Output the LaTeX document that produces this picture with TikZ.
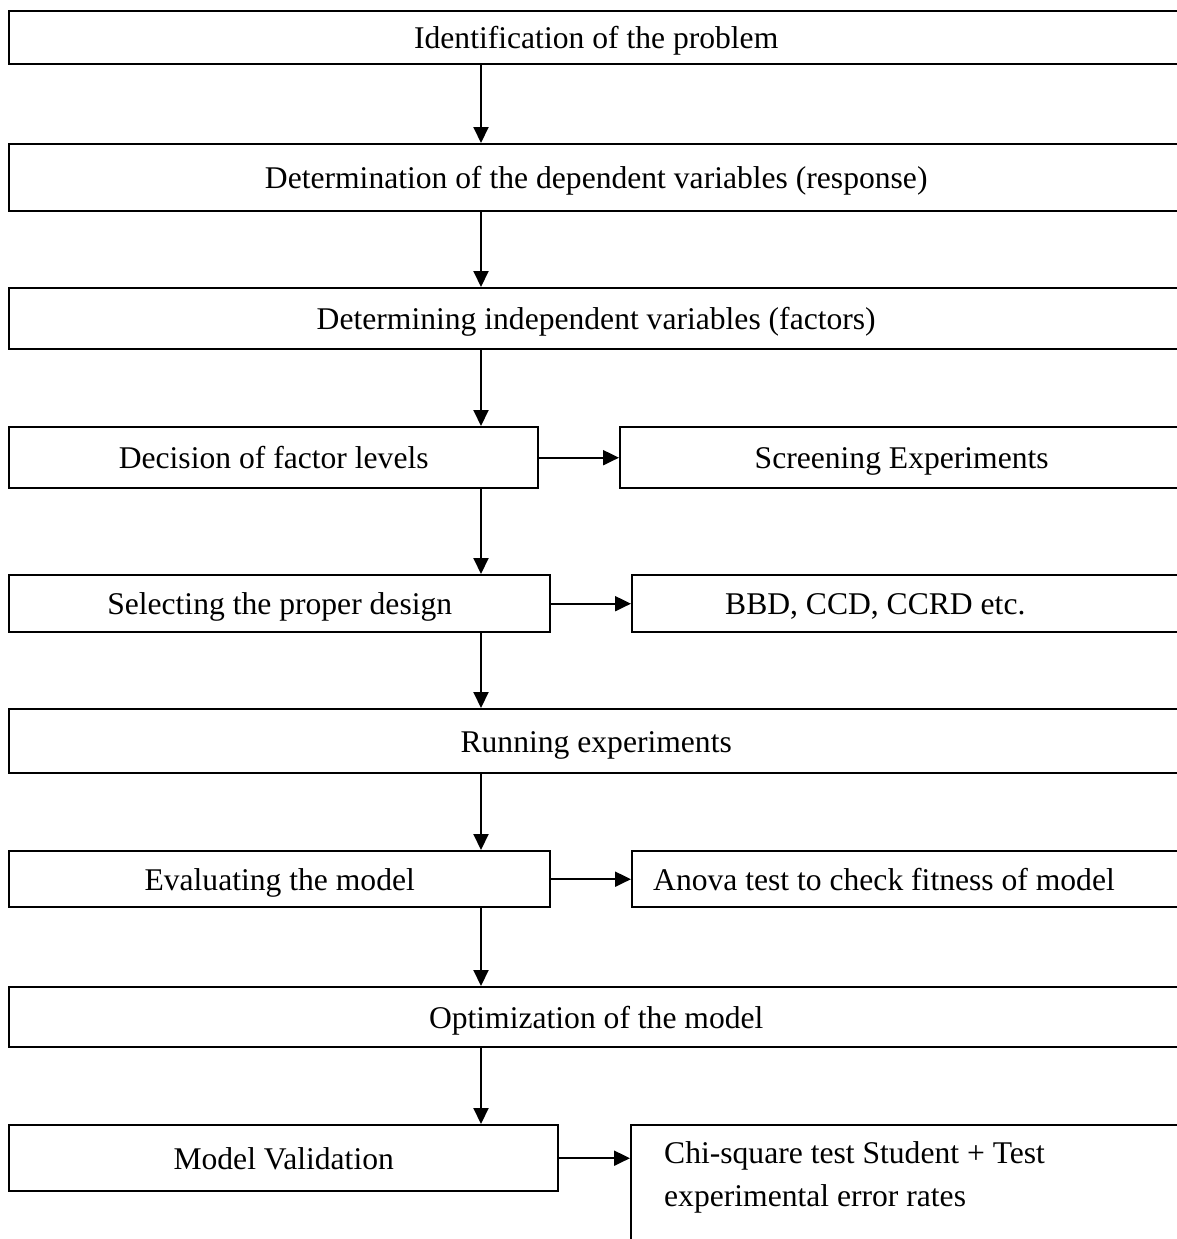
\documentclass[tikz,border=0pt]{standalone}
\usepackage{fontspec}
\setmainfont{Liberation Serif}
\usepackage{tikz}
\usetikzlibrary{positioning, arrows.meta}

\begin{document}
\begin{tikzpicture}[x=1pt, y=-1pt,
    box/.style={draw=black, line width=2.4pt, inner sep=0pt, anchor=north west,
        text height=29pt, text depth=7pt, font=\fontsize{31.6}{43}\selectfont},
    sidebox/.style={box, align=flush left},
    arr/.style={line width=2pt, -{Triangle[length=16pt, width=15pt]}}]
            \useasboundingbox (0,0) rectangle (1177,1239);
            \clip (0,0) rectangle (1177,1239);

            \node[box, minimum width=1174pt, minimum height=53pt] (1) at (8, 10) {Identification of the problem};
            \node[box, minimum width=1174pt, minimum height=67pt] (2) at (8, 143) {Determination of the dependent variables (response)};
            \node[box, minimum width=1174pt, minimum height=61pt] (3) at (8, 287) {Determining independent variables (factors)};
            \node[box, minimum width=529pt, minimum height=61pt] (4) at (8, 426) {Decision of factor levels};
            \node[box, minimum width=563pt, minimum height=61pt] (s4) at (619, 426) {Screening Experiments};
            \node[box, minimum width=541pt, minimum height=57pt] (5) at (8, 574) {Selecting the proper design};
            \node[sidebox, minimum width=551pt, minimum height=57pt, inner xsep=93pt, text width=365pt] (s5) at (631, 574) {BBD, CCD, CCRD etc.};
            \node[box, minimum width=1174pt, minimum height=64pt] (6) at (8, 708) {Running experiments};
            \node[box, minimum width=541pt, minimum height=56pt] (7) at (8, 850) {Evaluating the model};
            \node[sidebox, minimum width=551pt, minimum height=56pt, inner xsep=21pt, text width=509pt] (s7) at (631, 850) {Anova test to check fitness of model};
            \node[box, minimum width=1174pt, minimum height=60pt] (8) at (8, 986) {Optimization of the model};
            \node[box, minimum width=549pt, minimum height=66pt] (9) at (8, 1124) {Model Validation};
            \node[sidebox, minimum width=552pt, inner xsep=33pt, text width=486pt, text height=38pt, text depth=200pt] (s9) at (630, 1124) {Chi-square test Student + Test\\experimental error rates};

            \coordinate (ax) at (481, 0);
            \draw[arr] (1.south -| ax) -- (2.north -| ax);
            \draw[arr] (2.south -| ax) -- (3.north -| ax);
            \draw[arr] (3.south -| ax) -- (4.north -| ax);
            \draw[arr] (4.south -| ax) -- (5.north -| ax);
            \draw[arr] (5.south -| ax) -- (6.north -| ax);
            \draw[arr] (6.south -| ax) -- (7.north -| ax);
            \draw[arr] (7.south -| ax) -- (8.north -| ax);
            \draw[arr] (8.south -| ax) -- (9.north -| ax);

            \draw[arr] (4.east) -- (s4.west |- 4.east);
            \draw[arr] (5.east) -- (s5.west |- 5.east);
            \draw[arr] (7.east) -- (s7.west |- 7.east);
            \draw[arr] (9.east) -- (s9.west |- 9.east);
        \end{tikzpicture}
\end{document}
